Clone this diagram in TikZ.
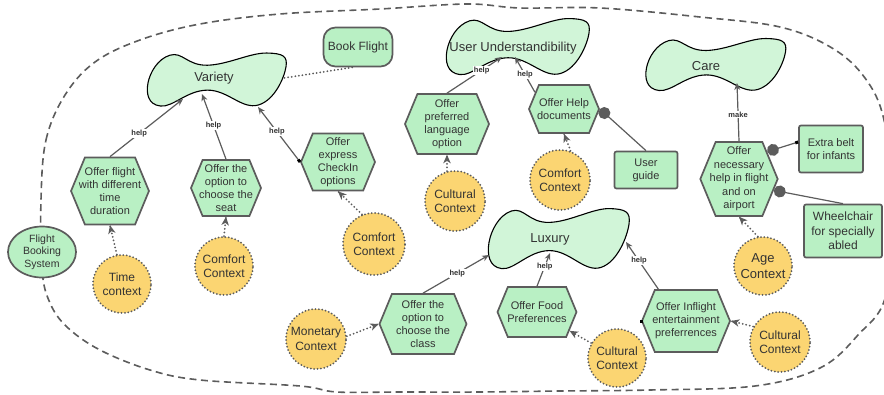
\documentclass[tikz,border=0pt]{standalone}
\usepackage{fontspec}
\setmainfont{Liberation Sans}
\usetikzlibrary{shapes.geometric,shapes.symbols,arrows.meta,decorations.markings,positioning}
\definecolor{taskfill}{HTML}{B9F0C4}
\definecolor{goalfill}{HTML}{D1F5D8}
\definecolor{ctxfill}{HTML}{FBD572}
\definecolor{edgegray}{HTML}{5C5C5C}
\definecolor{txt}{HTML}{333333}
\tikzset{
task/.style = {signal, signal to=east and west, signal pointer angle=135, draw=edgegray, line width=1.7pt, fill=taskfill, text=txt, align=center, font=\fontsize{11}{13}\selectfont, inner xsep=-6pt, inner ysep=0pt},
ctx/.style = {circle, draw=edgegray, fill=ctxfill, line width=2pt, dash pattern=on 0pt off 3.4pt, line cap=round, minimum size=60pt, inner sep=0pt, align=center, text=txt, font=\fontsize{12}{14.5}\selectfont},
res/.style = {rectangle, rounded corners=2pt, draw=edgegray, fill=taskfill, line width=1.7pt, align=center, text=txt, font=\fontsize{11}{13}\selectfont, inner sep=0pt},
goal/.style = {text=txt, font=\fontsize{13}{15}\selectfont, inner sep=0pt},
goalline/.style = {draw=black, fill=goalfill, line width=1.1pt},
helparrow/.style = {-{Stealth[length=7pt,width=6pt]}, draw=edgegray, line width=1.2pt},
lbl/.style = {fill=white, inner sep=1pt, text=txt, font=\bfseries\fontsize{7.5}{8}\selectfont},
dotline/.style = {draw=edgegray, line width=2pt, dash pattern=on 0pt off 3.6pt, line cap=round},
ctxarrow/.style = {dotline, postaction={decorate}, decoration={markings, mark=at position 1 with {\fill[edgegray] (0pt,0pt) -- (-8.5pt,3.8pt) -- (-6pt,0pt) -- (-8.5pt,-3.8pt) -- cycle;}}},
means/.style = {-{Circle[length=12pt]}, draw=edgegray, line width=1.2pt},
sqmark/.style = {rectangle, fill=black, minimum size=3pt, inner sep=0pt},
boundary/.style = {draw=edgegray, line width=1.6pt, dash pattern=on 7pt off 4.5pt}
}
\newcommand{\softgoal}[3]{%
  \draw[goalline, shift={#1}, xscale=#2, yscale=#3] plot[smooth cycle, tension=0.75] coordinates {(-0.5,0.075) (-0.34,-0.45) (-0.07,-0.26) (0.36,-0.49) (0.5,-0.23) (0.3,0.49) (-0.07,0.21) (-0.41,0.51)};}

\begin{document}
\begin{tikzpicture}[x=1pt, y=-1pt]
  \useasboundingbox (0,0) rectangle (884,394);

  \draw[boundary] plot[smooth cycle, tension=0.6] coordinates {(41,200) (46,140) (65,95) (95,62) (140,40) (200,24) (280,14) (380,9) (467,4) (520,8) (600,8) (700,17) (780,27) (832,48) (865,78) (884,120) (893,200) (886,295) (858,335) (820,368) (755,386) (650,390) (560,391) (480,392) (400,392) (337,392) (300,386) (200,380) (150,370) (100,350) (67,327) (50,303) (42,270)};

  \softgoal{(217,79)}{138}{53}
  \softgoal{(518,46)}{142}{56}
  \softgoal{(716,64)}{139}{52}
  \softgoal{(559,238)}{140}{60}

  \node [goal]                                          (variety)     at (214,78)  {Variety};
  \node [goal]                                          (userund)     at (513,48)  {User Understandibility};
  \node [goal]                                          (care)        at (706,66)  {Care};
  \node [goal]                                          (luxury)      at (550,239) {Luxury};

  \coordinate (var-a) at (183,99);
  \coordinate (var-b) at (202,94);
  \coordinate (var-c) at (258,107);
  \coordinate (var-r) at (284,78);
  \coordinate (uu-a)  at (502,57);
  \coordinate (uu-b)  at (515,57);
  \coordinate (care-a) at (737,83);
  \coordinate (lux-a) at (489,255);
  \coordinate (lux-b) at (550,253);
  \coordinate (lux-c) at (626,242);

  \node [res, rounded corners=12pt, minimum width=69pt, minimum height=39pt, font=\fontsize{12}{14}\selectfont] (bookflight) at (358,47) {Book Flight};
  \node [res, ellipse, minimum width=68pt, minimum height=51pt, font=\fontsize{10.5}{12.5}\selectfont] (fbs) at (42,252) {Flight\\Booking\\System};

  \node [task, minimum width=75pt, minimum height=67pt]   (flightdur)   at (110,191) {Offer flight\\with different\\time\\duration};
  \node [task, minimum width=70pt, minimum height=56pt]   (seat)        at (226,188) {Offer the\\option to\\choose the\\seat};
  \node [task, minimum width=74pt, minimum height=57pt]   (express)     at (338,162) {Offer\\express\\CheckIn\\options};
  \node [task, minimum width=84pt, minimum height=60pt]   (language)    at (447,124) {Offer\\preferred\\language\\option};
  \node [task, minimum width=70pt, minimum height=48pt]   (helpdoc)     at (564,109) {Offer Help\\documents};
  \node [task, minimum width=76pt, minimum height=74pt, font=\fontsize{11}{13.5}\selectfont] (necessary) at (739,179) {Offer\\necessary\\help in flight\\and on\\airport};
  \node [task, minimum width=87pt, minimum height=60pt]   (class)       at (423,324) {Offer the\\option to\\choose the\\class};
  \node [task, minimum width=79pt, minimum height=50pt]   (food)        at (537,312) {Offer Food\\Preferences};
  \node [task, minimum width=88pt, minimum height=62pt]   (inflight)    at (686,321) {Offer Inflight\\entertainment\\preferrences};

  \node [res, minimum width=63pt, minimum height=37pt]    (userguide)   at (646,170) {User\\guide};
  \node [res, minimum width=64pt, minimum height=47pt]    (extrabelt)   at (831,149) {Extra belt\\for infants};
  \node [res, minimum width=78pt, minimum height=53pt, font=\fontsize{12}{14.5}\selectfont] (wheelchair) at (843,231) {Wheelchair\\for specially\\abled};

  \node [ctx, minimum size=58pt]                         (timectx)     at (122,284) {Time\\context};
  \node [ctx, minimum size=58pt]                         (comfortseat) at (224,266) {Comfort\\Context};
  \node [ctx, minimum size=62pt]                         (comfortexp)  at (374,244) {Comfort\\Context};
  \node [ctx]                                            (culturallang) at (455,201) {Cultural\\Context};
  \node [ctx]                                            (comforthelp) at (560,180) {Comfort\\Context};
  \node [ctx, minimum size=58pt, font=\fontsize{13}{15.5}\selectfont] (agectx) at (763,266) {Age\\Context};
  \node [ctx]                                            (monetary)    at (316,339) {Monetary\\Context};
  \node [ctx, minimum size=58pt]                         (culturalfood) at (617,358) {Cultural\\Context};
  \node [ctx]                                            (culturalinf) at (780,342) {Cultural\\Context};

  \node [sqmark]                                         (inflightmark) at (inflight.west) {};

  \draw [helparrow] (flightdur.north) -- node[lbl, pos=0.4] {help} (var-a);
  \draw [helparrow] (seat.north) -- node[lbl, pos=0.52] {help} (var-b);
  \draw [helparrow, {Square[length=3pt,width=3pt,black]}-{Stealth[length=7pt,width=6pt]}] (express.west) -- node[lbl, pos=0.55] {help} (var-c);
  \draw [helparrow] (language.north) -- node[lbl, pos=0.63] {help} (uu-a);
  \draw [helparrow] (helpdoc.150) -- node[lbl, pos=0.5] {help} (uu-b);
  \draw [helparrow] (necessary.north) -- node[lbl, pos=0.46] {make} (care-a);
  \draw [helparrow] (class.north) -- node[lbl, pos=0.52] {help} (lux-a);
  \draw [helparrow] (food.north) -- node[lbl, pos=0.6] {help} (lux-b);
  \draw [helparrow] (inflight.131) -- node[lbl, pos=0.6] {help} (lux-c);

  \draw [dotline] (bookflight.254) -- (var-r);

  \draw [ctxarrow] (timectx.100) -- (flightdur.south);
  \draw [ctxarrow] (comfortseat.north) -- (seat.south);
  \draw [ctxarrow] (comfortexp.112) -- (express.south);
  \draw [ctxarrow] (culturallang.105) -- (language.south);
  \draw [ctxarrow] (comforthelp.70) -- (helpdoc.south);
  \draw [ctxarrow] (agectx.100) -- (necessary.south);
  \draw [ctxarrow] (monetary.5) -- (class.west);
  \draw [ctxarrow] (culturalfood.150) -- (food.-30);
  \draw [ctxarrow] (culturalinf.150) -- (inflight.east);

  \draw [means] (userguide.north) -- (helpdoc.east);
  \draw [means, {Square[length=3pt,width=3pt,black]}-{Circle[length=12pt]}] (extrabelt.168) -- (necessary.44);
  \draw [means] (wheelchair.north) -- (necessary.-18);
\end{tikzpicture}
\end{document}
